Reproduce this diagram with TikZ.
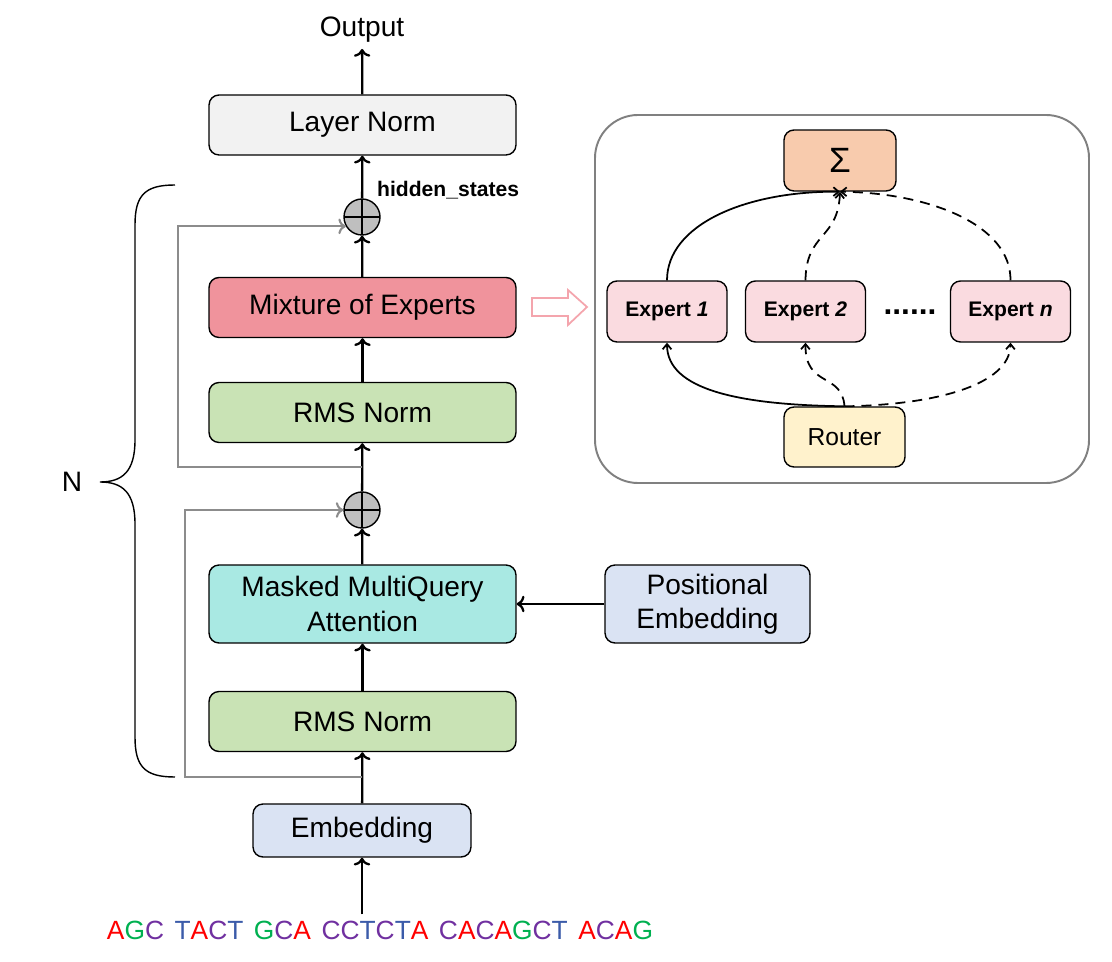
\documentclass[tikz,border=0pt]{standalone}
\usepackage{fontspec}
\setmainfont{Liberation Sans}
\usetikzlibrary{arrows.meta}
\definecolor{lngray}{HTML}{F2F2F2}
\definecolor{moered}{HTML}{F0939C}
\definecolor{rmsgreen}{HTML}{C9E3B5}
\definecolor{attteal}{HTML}{A9E9E3}
\definecolor{embblue}{HTML}{DAE3F3}
\definecolor{sigorange}{HTML}{F8CBAD}
\definecolor{expertpink}{HTML}{FADBE0}
\definecolor{routeryellow}{HTML}{FFF2CC}
\definecolor{plusgray}{HTML}{BFBFBF}
\definecolor{resgray}{HTML}{8C8C8C}
\definecolor{panelgray}{HTML}{808080}
\definecolor{hollowpink}{HTML}{F4A5AD}
\definecolor{baseA}{HTML}{FF0000}
\definecolor{baseG}{HTML}{00B050}
\definecolor{baseC}{HTML}{7030A0}
\definecolor{baseT}{HTML}{3B5BA9}
\newcommand{\nA}{\textcolor{baseA}{A}}
\newcommand{\nG}{\textcolor{baseG}{G}}
\newcommand{\nC}{\textcolor{baseC}{C}}
\newcommand{\nT}{\textcolor{baseT}{T}}
\newcommand{\gap}{\hspace{0.4em}}
\begin{document}
\begin{tikzpicture}[x=0.02cm, y=-0.02cm, blk/.style={draw, rounded corners=0.2cm, line width=0.8pt, align=center, font=\fontsize{16}{19.5}\selectfont}, wide/.style={blk, minimum width=6.14cm, minimum height=1.2cm}, expert/.style={blk, fill=expertpink, minimum width=2.4cm, minimum height=1.22cm, font=\fontsize{12}{14}\selectfont\bfseries}, plus/.style={circle, draw, fill=plusgray, line width=0.8pt, minimum size=0.72cm, inner sep=0pt, path picture={\draw[line width=0.8pt] (path picture bounding box.north) -- (path picture bounding box.south) (path picture bounding box.west) -- (path picture bounding box.east);}}, arr/.style={->, line width=1.3pt}, res/.style={->, line width=1.2pt, draw=resgray}, route/.style={-{Straight Barb[length=3pt,width=5pt]}, line width=1pt}, routed/.style={route, dash pattern=on 0.2cm off 0.14cm}]
	\useasboundingbox (0,0) rectangle (1112,962);
	\node[font=\fontsize{16}{19}\selectfont] (out) at (362,30) {Output};
	\node[wide, fill=lngray] (LN) at (362.5,125) {Layer Norm};
	\node[plus] (P2) at (362,217) {};
	\node[anchor=west, font=\fontsize{12}{14}\selectfont\bfseries] (hs) at (371,190) {hidden\_states};
	\node[wide, fill=moered] (MoE) at (362.5,307.5) {Mixture of Experts};
	\node[wide, fill=rmsgreen] (RMS2) at (362.5,412.5) {RMS Norm};
	\node[plus] (P1) at (362,510) {};
	\node[wide, fill=attteal, minimum height=1.56cm] (MQA) at (362.5,604) {Masked MultiQuery\\Attention};
	\node[blk, fill=embblue, minimum width=4.1cm, minimum height=1.56cm] (PE) at (707.5,604) {Positional\\Embedding};
	\node[wide, fill=rmsgreen] (RMS1) at (362.5,721.5) {RMS Norm};
	\node[blk, fill=embblue, minimum width=4.36cm, minimum height=1.06cm] (Emb) at (362,830.5) {Embedding};
	\node[font=\fontsize{15}{18}\selectfont] (seq) at (380,930) {\nA\nG\nC\gap\nT\nA\nC\nT\gap\nG\nC\nA\gap\nC\nC\nT\nC\nT\nA\gap\nC\nA\nC\nA\nG\nC\nT\gap\nA\nC\nA\nG};
	\node[font=\fontsize{16}{19}\selectfont] (N) at (72,482) {N};
	\coordinate (b1) at (362,777);
	\coordinate (r1) at (185,777);
	\coordinate (b2) at (362,467);
	\coordinate (r2) at (178,467);
	\draw[arr] (LN) -- (out);
	\draw[arr] (P2) -- (LN);
	\draw[arr] (MoE) -- (P2);
	\draw[arr] (RMS2) -- (MoE);
	\draw[arr] (P1) -- (RMS2);
	\draw[arr] (MQA) -- (P1);
	\draw[arr] (RMS1) -- (MQA);
	\draw[arr] (Emb) -- (RMS1);
	\draw[arr] (Emb |- seq.north) -- (Emb);
	\draw[arr] (PE) -- (MQA);
	\draw[res] (b1) -- (r1) |- (P1.west);
	\draw[res] (b2) -- (r2) |- (P2.210);
	% brace over the N blocks
	\draw[line width=0.8pt] (175,185) .. controls (145,185) and (135,195) .. (135,225) -- (135,440) .. controls (135,472) and (122,482) .. (100,482) .. controls (122,482) and (135,492) .. (135,524) -- (135,737) .. controls (135,767) and (145,777) .. (175,777);
	% hollow arrow to the expert panel
	\draw[hollowpink, line width=1pt, fill=white] (532,298) -- (568,298) -- (568,290) -- (587,307) -- (568,325) -- (568,316) -- (532,316) -- cycle;
	% expert panel
	\draw[panelgray, line width=1.1pt, rounded corners=0.86cm] (595,115) rectangle (1089,483);
	\node[blk, fill=sigorange, minimum width=2.24cm, minimum height=1.22cm, font=\fontsize{20}{24}\selectfont] (Sig) at (840,160.5) {Σ};
	\node[expert] (E1) at (667,311.5) {Expert \textit{1}};
	\node[expert] (E2) at (805.5,311.5) {Expert \textit{2}};
	\node[expert] (En) at (1010.5,311.5) {Expert \textit{n}};
	\node[font=\fontsize{18}{21}\selectfont\bfseries] (dots) at (910,312) {......};
	\node[blk, fill=routeryellow, minimum width=2.42cm, minimum height=1.2cm, font=\fontsize{14}{17}\selectfont] (Router) at (844.5,437) {Router};
	\draw[route] (E1.north) .. controls (667,225) and (745,191) .. (Sig.south);
	\draw[routed] (E2.north) .. controls (806,232) and (838,240) .. (Sig.south);
	\draw[routed] (En.north) .. controls (1011,225) and (930,193) .. (Sig.south);
	\draw[route] (Router.north) .. controls (740,405) and (667,390) .. (E1.south);
	\draw[routed] (Router.north) .. controls (842,372) and (805,388) .. (E2.south);
	\draw[routed] (Router.north) .. controls (935,405) and (1010,385) .. (En.south);
\end{tikzpicture}
\end{document}
